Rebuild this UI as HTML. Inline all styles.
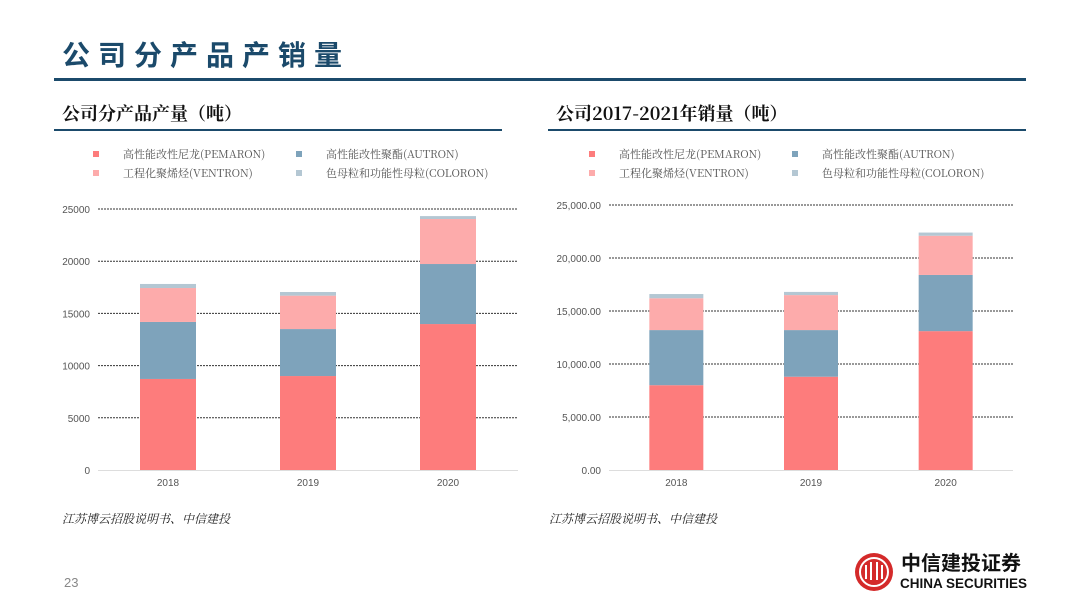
<!DOCTYPE html>
<html><head><meta charset="utf-8"><style>
body{margin:0;background:#fff;width:1080px;height:608px;overflow:hidden}
svg{display:block}
text{font-family:"Liberation Sans","Noto Sans CJK SC",sans-serif}
.cjk{font-family:"Noto Serif CJK SC","Noto Sans CJK SC",serif}
</style></head><body>
<svg id="page" width="1080" height="608" viewBox="0 0 1080 608">
<text x="62" y="65" font-size="28" font-weight="bold" fill="#1b4a6b" letter-spacing="8" style="font-family:'Noto Sans CJK SC',sans-serif">公司分产品产销量</text>
<rect x="54" y="78" width="972" height="3" fill="#1b4a6b"/>
<text x="62" y="120" font-size="18" font-weight="bold" fill="#111" class="cjk">公司分产品产量（吨）</text>
<rect x="54" y="129" width="448" height="2" fill="#1b4a6b"/>
<text x="556" y="120" font-size="18" font-weight="bold" fill="#111" class="cjk">公司2017-2021年销量（吨）</text>
<rect x="548" y="129" width="478" height="2" fill="#1b4a6b"/>
<g id="left"></g>
<g id="right"></g>
<text x="62" y="523" font-size="12" font-style="italic" fill="#222" class="cjk">江苏博云招股说明书、中信建投</text>
<text x="549" y="523" font-size="12" font-style="italic" fill="#222" class="cjk">江苏博云招股说明书、中信建投</text>
<text x="64" y="587" font-size="13" fill="#888">23</text>
<g>
<circle cx="874" cy="572" r="19" fill="#d42a2a"/>
<circle cx="874" cy="572" r="14" fill="none" stroke="#fff" stroke-width="2"/>
<path d="M866 565v14M871 562v18M877 562v18M882 565v14" stroke="#fff" stroke-width="2"/>
<text x="901" y="570" font-size="20" font-weight="bold" fill="#111" style="font-family:'Noto Sans CJK SC',sans-serif">中信建投证券</text>
<text x="900" y="588" font-size="13.5" font-weight="bold" fill="#111">CHINA SECURITIES</text>
</g>
</svg>
<script>
const categories=["2018","2019","2020"];
const seriesNames=["高性能改性尼龙(PEMARON)","高性能改性聚酯(AUTRON)","工程化聚烯烃(VENTRON)","色母粒和功能性母粒(COLORON)"];
const prodPemaron=[8720,9000,13980];
const prodAutron=[5460,4500,5750];
const prodVentron=[3250,3200,4310];
const prodColoron=[390,350,280];
const salesPemaron=[8000,8800,13100];
const salesAutron=[5200,4400,5300];
const salesVentron=[3000,3300,3700];
const salesColoron=[400,300,300];
const yTicks=[0,5000,10000,15000,20000,25000];
const leftTickLabels=["0","5000","10000","15000","20000","25000"];
const rightTickLabels=["0.00","5,000.00","10,000.00","15,000.00","20,000.00","25,000.00"];
const colors=["#fd7c7c","#7ea3bb","#fdabab","#b4c7d3"];
const NS="http://www.w3.org/2000/svg";
function mk(p,tag,a){const e=document.createElementNS(NS,tag);for(const k in a)e.setAttribute(k,a[k]);p.appendChild(e);return e;}
function draw(g,cfg,series,labels){
  const y=v=>cfg.y0-(v/25000)*(cfg.y0-cfg.y1);
  const step=(cfg.x1-cfg.x0)/categories.length;
  const x=i=>cfg.x0+step*(i+0.5);
  seriesNames.forEach((n,i)=>{
    const lx=cfg.lx+(i%2)*cfg.lgap, ly=cfg.ly+Math.floor(i/2)*19;
    const r=mk(g,"rect",{x:lx,y:ly-7,width:6,height:6,fill:colors[i]});
    
    
    const t=mk(g,"text",{x:lx+30,y:ly,"font-size":11,fill:"#555",class:"cjk"});t.textContent=n;
    
    
  });
  yTicks.forEach((v,i)=>{
    if(i>0){const l=mk(g,"line",{x1:cfg.x0,x2:cfg.x1,y1:y(v),y2:y(v),stroke:"#333","stroke-width":1,"stroke-dasharray":"2,1"});
    
    }
    const t=mk(g,"text",{x:cfg.x0-8,y:y(v)+4,"font-size":10,fill:"#555","text-anchor":"end"});t.textContent=labels[i];
    
    
  });
  const ax=mk(g,"line",{x1:cfg.x0,x2:cfg.x1,y1:y(0)+0.5,y2:y(0)+0.5,stroke:"#ddd"});
  
  
  categories.forEach((c,i)=>{
    let acc=0;
    series.forEach((s,k)=>{
      const r=mk(g,"rect",{x:x(i)-cfg.bw/2,y:y(acc+s[i]),width:cfg.bw,height:y(acc)-y(acc+s[i]),fill:colors[k]});
      
      
      acc+=s[i];
    });
    const t=mk(g,"text",{x:x(i),y:cfg.y0+16,"font-size":10,fill:"#555","text-anchor":"middle"});t.textContent=c;
    
    
  });
}
draw(document.getElementById("left"),{x0:98,x1:518,y0:470,y1:209,bw:56,lx:93,ly:158,lgap:203},[prodPemaron,prodAutron,prodVentron,prodColoron],leftTickLabels);
draw(document.getElementById("right"),{x0:609,x1:1013,y0:470,y1:205,bw:54,lx:589,ly:158,lgap:203},[salesPemaron,salesAutron,salesVentron,salesColoron],rightTickLabels);
</script>
</body></html>
